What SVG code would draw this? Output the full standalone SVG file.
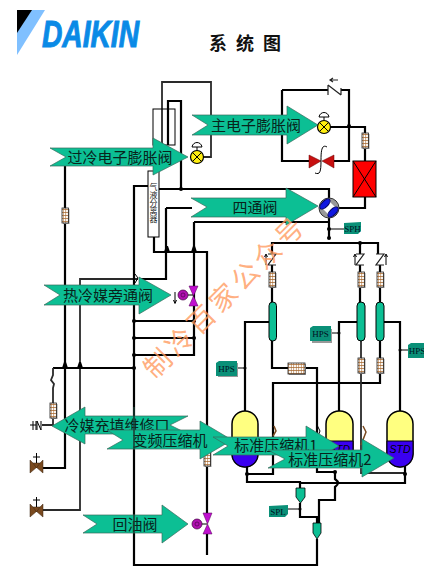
<svg xmlns="http://www.w3.org/2000/svg" width="424" height="572" viewBox="0 0 424 572">
<defs>
<style>
.p{fill:none;stroke:#000;stroke-width:2.2}
.q{fill:none;stroke:#2a2a2a;stroke-width:1.800}
.t{fill:none;stroke:#000;stroke-width:1}
.a{fill:#0cbf94;stroke:#3a6a5c;stroke-width:.7}
.l{font-family:"Noto Sans CJK SC",sans-serif;font-size:15px;fill:#08241c;text-anchor:middle}
.s{font-family:"Liberation Serif",serif;font-size:9px;fill:#012;text-anchor:middle}
.tag{fill:#0a9078}
.sh{fill:#999}
.d{fill:#000}
.ac{fill:#0cbf94;stroke:#000;stroke-width:1}
.ck{fill:none;stroke:#222;stroke-width:1.200}
.br{fill:none;stroke:#7a4a20;stroke-width:1.500}
.mg{fill:#c010d0;stroke:#500050;stroke-width:.5}
.bv{fill:#7a4a20;stroke:#3a2410;stroke-width:.5}
.y{fill:#ffee10;stroke:#000;stroke-width:1.200}
</style>
<pattern id="fg" width="2.500" height="3" patternUnits="userSpaceOnUse"><rect width="2.500" height="3" fill="#fff"/><path d="M0,1.500H2.500M1.250,0V3" stroke="#a86a30" stroke-width=".7"/></pattern>
<g id="fv"><rect x="1" y="1" width="6.500" height="15" class="sh"/><rect width="6.500" height="15" fill="url(#fg)" stroke="#222" stroke-width=".8"/></g>
<polygon id="up" points="-3,0 3,0 1,-6 -1,-6" fill="#000"/>
</defs>
<rect width="424" height="572" fill="#fff"/>
<g id="logo">
<polygon points="17,10 45,10 17,55" fill="#80c0ff"/>
<polygon points="17,10 32,10 17,33" fill="#000"/>
<text x="42" y="47" font-family="Liberation Sans,sans-serif" font-size="36" font-weight="bold" font-style="italic" fill="#0a8ae6" stroke="#0a8ae6" stroke-width="1" textLength="97" lengthAdjust="spacingAndGlyphs">DAIKIN</text>
</g>
<text id="title" x="209" y="50" font-family="Noto Sans CJK SC,sans-serif" font-size="18" font-weight="bold" fill="#111" letter-spacing="9">系统图</text>
<g id="connectors">
<path class="q" d="M162,145V82H211V157H200"/>
<path class="p" d="M168,145V101H181V189"/>
<path class="p" d="M134,278V186H148M159,189H329V199"/>
<path class="q" d="M43,510H80V279H138"/>
<path class="p" d="M166,208H192M166,208V279H140"/>
<path class="p" d="M194,222H329M194,222V355H134M194,338H134M194,321H134"/>
<path class="p" d="M154,237V252H207V513"/>
<path class="p" d="M207,534V555"/>
<path class="p" d="M65,166V468H43M134,278V565H317V539"/>
<path class="p" d="M53,368H134"/>
<path class="q" d="M53,368V375L51,380 54,384 53,388V403M53,418V425H42"/>
<path class="p" d="M282,90H328M341,90H349V161H334M309,161H282V90"/>
<path class="p" d="M330,127H365V133M365,147V161M365,197V208H339"/>
<path class="p" d="M329,218V238M272,254V243H378V254M360,243V254"/>
<path class="t" d="M329,229H344"/>
<path class="p" d="M272,265V302M272,341V368H288M305,368H317V472H335"/>
<path class="p" d="M360,265V302M380,265V302M380,341V358M380,374V383H273V474H247"/>
<path class="q" d="M361,341V358M361,374V473H405"/>
<path class="p" d="M269,322H245V411M357,322H339V411M384,322H400V411"/>
<path class="t" d="M237,368H245M331,333H339M400,350H408"/>
<path class="p" d="M247,467V482H300V488M300,483H405V466"/>
<path class="p" d="M335,472V479C339,482 339,484 335,487V500H319V523"/>
<path class="p" d="M300,503V517H317V523"/>
<path class="t" d="M288,509H300"/>
<circle cx="181" cy="189" r="2" class="d"/>
<circle cx="349" cy="126" r="2" class="d"/>
<circle cx="329" cy="229" r="2" class="d"/>
<circle cx="329" cy="238" r="2" class="d"/>
<circle cx="360" cy="243" r="2" class="d"/>
<circle cx="134" cy="321" r="2" class="d"/>
<circle cx="134" cy="338" r="2" class="d"/>
<circle cx="134" cy="355" r="2" class="d"/>
<circle cx="134" cy="368" r="2" class="d"/>
<circle cx="194" cy="321" r="2" class="d"/>
<circle cx="194" cy="338" r="2" class="d"/>
<circle cx="245" cy="368" r="1.500" class="d"/>
<circle cx="339" cy="333" r="1.500" class="d"/>
<circle cx="400" cy="350" r="1.500" class="d"/>
<circle cx="247" cy="474" r="2" class="d"/>
<circle cx="335" cy="472" r="2" class="d"/>
<circle cx="405" cy="474" r="2" class="d"/>
<circle cx="300" cy="509" r="1.500" class="d"/>
<use href="#up" x="65" y="368"/>
<use href="#up" x="80" y="368"/>
<use href="#up" x="167" y="252"/>
<use href="#up" x="194" y="252"/>
<path class="t" d="M135,274L138,278 135,283"/>
<path class="br" d="M274,426L276,431 273,436"/>
<path class="t" d="M317,425L320,431 318,436"/>
<path class="br" d="M361,445L366,432 363,426"/>
</g>
<g id="sub-cooler"><rect class="t" x="153" y="109" width="22" height="36"/></g>
<g id="separator"><rect x="148" y="171" width="11" height="66" fill="#fff" stroke="#000"/><text x="153.500" y="183" font-family="Noto Sans CJK SC,sans-serif" font-size="8" fill="#222" style="writing-mode:vertical-rl;text-orientation:upright">气液分离器</text></g>
<g id="filters">
<use href="#fv" x="62" y="208"/>
<use href="#fv" x="362" y="133"/>
<use href="#fv" x="269" y="272"/>
<use href="#fv" x="358" y="272"/>
<use href="#fv" x="377" y="272"/>
<use href="#fv" x="358" y="358"/>
<use href="#fv" x="377" y="358"/>
<use href="#fv" x="50" y="403"/>
<use href="#fv" x="204" y="451"/>
<rect x="289" y="364" width="17" height="11" class="sh"/>
<rect x="288" y="363" width="17" height="11" fill="url(#fg)" stroke="#222" stroke-width=".8"/>
</g>
<g id="condenser"><rect x="353" y="161" width="23" height="36" fill="#f00" stroke="#000"/><path class="t" d="M353,161L376,197M376,161L353,197"/></g>
<g id="four-way"><circle cx="329" cy="208" r="10" fill="#999" stroke="#333"/><polygon points="329,201 336,208 329,215 322,208" fill="#fff"/><ellipse cx="325" cy="204" rx="6.500" ry="3" transform="rotate(-45 325 204)" fill="#1018e0" stroke="#006"/><ellipse cx="333" cy="212" rx="6.500" ry="3" transform="rotate(-45 333 212)" fill="#1018e0" stroke="#006"/></g>
<g id="check-valves">
<path class="ck" d="M328,85V95M328,85L341,95M341,88V95M338,80H331M333,78L330,80 333,82"/>
<path class="ck" d="M268,254H276L268,265H276M356,254H364L356,265H364M376,254H384L376,265H384"/>
<path class="t" d="M266,265V255M264.500,257L266,254 267.500,257M355,265V255M353.500,257L355,254 356.500,257M386,265V255M384.500,257L386,254 387.500,257"/>
</g>
<g id="hp-valve"><polygon points="309,155 321,161 309,168" fill="#c81010" stroke="#600" stroke-width=".5"/><polygon points="334,155 322,161 334,168" fill="#c81010" stroke="#600" stroke-width=".5"/><path class="t" d="M327,147C322,144 321,150 321,160 321,172 320,175 315,173"/></g>
<g id="accumulators">
<rect class="ac" x="269" y="302" width="7.500" height="39" rx="3.700"/>
<rect class="ac" x="357" y="302" width="8" height="39" rx="4"/>
<rect class="ac" x="376" y="302" width="8" height="39" rx="4"/>
</g>
<g id="comp1"><rect x="232" y="411" width="26" height="56" rx="13" fill="#ffff80" stroke="#000" stroke-width="1.500"/><path d="M232,441H258V454A13,13 0 0 1 232,454Z" fill="#3a00f0" stroke="#000"/></g>
<g id="comp2"><rect x="326" y="411" width="27" height="56" rx="13" fill="#ffff80" stroke="#000" stroke-width="1.500"/><path d="M326,441H353V454A13,13 0 0 1 326,454Z" fill="#3a00f0" stroke="#000"/><text x="339.500" y="453" font-family="Liberation Sans,sans-serif" font-size="10.500" font-style="italic" fill="#000" text-anchor="middle">STD</text></g>
<g id="comp3"><rect x="387" y="411" width="26" height="56" rx="13" fill="#ffff80" stroke="#000" stroke-width="1.500"/><path d="M387,441H413V454A13,13 0 0 1 387,454Z" fill="#3a00f0" stroke="#000"/><text x="400" y="453" font-family="Liberation Sans,sans-serif" font-size="10.500" font-style="italic" fill="#000" text-anchor="middle">STD</text></g>
<g id="tags">
<polygon class="tag" points="344,223 361,222 361,231 358,234 344,234"/><text class="s" x="352.500" y="232">SPH</text>
<polygon class="sh" points="312,329 332,329 332,343 312,343"/><polygon class="tag" points="310,328 313,326 331,326 331,341 310,341"/><text class="s" x="320.500" y="337">HPS</text>
<polygon class="sh" points="218,363 238,363 238,377 218,377"/><polygon class="tag" points="216,363 219,361 237,361 237,376 216,376"/><text class="s" x="226.500" y="372">HPS</text>
<polygon class="tag" points="408,345 411,343 424,343 424,358 408,358"/><text class="s" x="417" y="354">HPS</text>
<polygon class="tag" points="269,506 288,505 288,514 285,517 269,517"/><text class="s" x="278" y="515">SPL</text>
</g>
<g id="arrows">
<g id="a1"><polygon class="a" points="50,148 153,148 153,138 188,157 153,175 153,166 50,166 66,157"/><text class="l" x="120" y="163">过冷电子膨胀阀</text></g>
<g id="a2"><polygon class="a" points="192,115 287,115 287,106 318,125 287,144 287,135 192,135 208,125"/><text class="l" x="256" y="131">主电子膨胀阀</text></g>
<g id="a3"><polygon class="a" points="191,198 286,198 286,188 318,206 286,225 286,217 191,217 207,207"/><text class="l" x="255" y="213">四通阀</text></g>
<g id="a4"><polygon class="a" points="44,285 139,285 139,277 171,295 139,314 139,305 44,305 60,295"/><text class="l" x="108" y="301">热冷媒旁通阀</text></g>
<g id="a5"><polygon class="a" points="188,416 85,416 85,407 52,426 85,444 85,434 188,434 170,425"/><text class="l" x="117" y="431">冷媒充填维修口</text></g>
<g id="a6"><polygon class="a" points="107,449 200,449 200,459 232,440 200,421 200,430 107,430 123,440"/><text class="l" x="170" y="446">变频压缩机</text></g>
<g id="a7"><polygon class="a" points="83,515 162,515 162,505 188,524 162,543 162,533 83,533 97,524"/><text class="l" x="135" y="530">回油阀</text></g>
<g id="a8"><polygon class="a" points="213,437 306,437 306,426 339,446 306,465 306,455 213,455 228,446"/><text class="l" x="276" y="450.500">标准压缩机1</text></g>
<g id="a9"><polygon class="a" points="268,450 362,450 362,439 394,458 362,477 362,468 268,468 285,459"/><text class="l" x="330" y="464.500">标准压缩机2</text></g>
</g>
<path id="over-lines" d="M134,407V450M134,514V533" fill="none" stroke="#1a3a30" stroke-width="1.500"/>
<g id="valves">
<g id="ev1"><circle cx="197" cy="157" r="6.500" class="y"/><path class="t" d="M193,153L201,161M201,153L193,161M192,147C193,141 201,141 202,147ZM197,147V150"/></g>
<g id="ev2"><circle cx="324" cy="127" r="6.500" class="y"/><path class="t" d="M320,123L328,131M328,123L320,131M319,117C320,111 328,111 329,117ZM324,117V120"/></g>
<g id="sv1"><circle cx="183" cy="295" r="5" fill="#b010b0" stroke="#400040" stroke-width=".7"/><circle cx="183" cy="295" r="2" fill="none" stroke="#400040" stroke-width=".6"/><polygon class="mg" points="189,286 198,286 193.500,296"/><polygon class="mg" points="189,306 198,306 193.500,296"/><path class="t" d="M188,295H193M175,292V303M173.500,300L175,303.500 176.500,300"/></g>
<g id="sv2"><circle cx="197" cy="524" r="5" fill="#b010b0" stroke="#400040" stroke-width=".7"/><circle cx="197" cy="524" r="2" fill="none" stroke="#400040" stroke-width=".6"/><polygon class="mg" points="203,513 212,513 207.500,524"/><polygon class="mg" points="203,534 212,534 207.500,524"/><path class="t" d="M202,524H207"/></g>
<g id="bv1"><polygon class="bv" points="30,460 37,467 30,473"/><polygon class="bv" points="43,460 36,467 43,473"/><polygon class="bv" points="33,463 40,463 36.500,468"/><path class="t" d="M33,457H40M36.500,453V463"/></g>
<g id="bv2"><polygon class="bv" points="30,504 37,511 30,517"/><polygon class="bv" points="43,504 36,511 43,517"/><polygon class="bv" points="33,507 40,507 36.500,512"/><path class="t" d="M33,500H40M36.500,497V507"/></g>
<g id="charge-port"><path class="t" d="M30,425H36M33,421V430M36,421V430M37,430V421L41,430V421"/></g>
<g id="cap1"><polygon points="296,488 305,488 305,497 300.500,503 296,497" fill="#0cbf94" stroke="#000" stroke-width=".8"/></g>
<g id="cap2"><polygon points="313,523 321,523 321,533 317,539 313,533" fill="#0cbf94" stroke="#000" stroke-width=".8"/></g>
</g>
<text id="watermark" x="155" y="380" transform="rotate(-45 155 380)" font-family="Noto Sans CJK SC,sans-serif" font-size="27" fill="#ff9a60" fill-opacity=".8" letter-spacing="4">制冷百家公众号</text>
</svg>
